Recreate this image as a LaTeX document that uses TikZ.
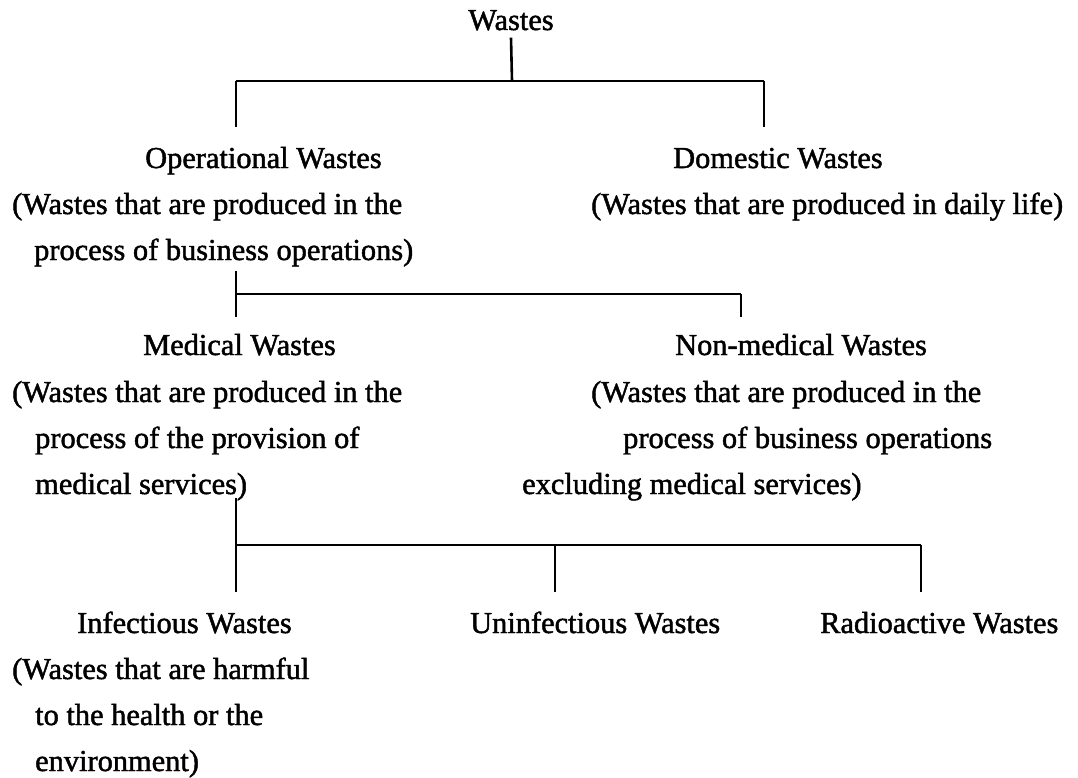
\documentclass[tikz,border=0pt]{standalone}
\usepackage{fontspec}
\setmainfont{Liberation Serif}[FakeBold=1.5]
\usepackage{tikz}

\tikzset{
  txt/.style={font=\fontsize{30.4}{36}\selectfont, inner sep=0pt, anchor=base west},
  stem/.style={line width=2.6pt},
  bar/.style={line width=1.5pt}
}

\begin{document}
\begin{tikzpicture}[x=1pt,y=-1pt]
% Page and white paper
\fill[white] (0,0) rectangle (1078,778);
\useasboundingbox (0,0) rectangle (1078,778);

% Top level
\node[txt,anchor=base] (wastes) at (511,30) {Wastes};

% Second level
\node[txt] (oper) at (145,168) {Operational Wastes};
\node[txt] (operA) at (12,214) {(Wastes that are produced in the};
\node[txt] (operB) at (34,260) {process of business operations)};
\node[txt] (dome) at (673,168) {Domestic Wastes};
\node[txt] (domeA) at (591,214) {(Wastes that are produced in daily life)};

% Third level
\node[txt] (med) at (143,355) {Medical Wastes};
\node[txt] (medA) at (12,402) {(Wastes that are produced in the};
\node[txt] (medB) at (35,448) {process of the provision of};
\node[txt] (medC) at (35,494) {medical services)};
\node[txt] (nonmed) at (675,355) {Non-medical Wastes};
\node[txt] (nonmedA) at (591,402) {(Wastes that are produced in the};
\node[txt] (nonmedB) at (623,448) {process of business operations};
\node[txt] (nonmedC) at (522,494) {excluding medical services)};

% Bottom level
\node[txt] (infec) at (77,633) {Infectious Wastes};
\node[txt] (infecA) at (12,679) {(Wastes that are harmful};
\node[txt] (infecB) at (35,725) {to the health or the};
\node[txt] (infecC) at (35,771) {environment)};
\node[txt] (uninf) at (470,633) {Uninfectious Wastes};
\node[txt] (radio) at (820,633) {Radioactive Wastes};

% Bracket under Wastes
\coordinate (j1) at (512,81);
\coordinate (j1l) at (236,81);
\coordinate (j1r) at (764,81);
\coordinate (e1l) at (236,127);
\coordinate (e1r) at (764,127);
\draw[stem] ([yshift=-7pt]wastes.south) -- (j1);
\draw[bar] (j1l) -- (j1r);
\draw[stem] (j1l) -- (e1l);
\draw[stem] (j1r) -- (e1r);

% Bracket under Operational Wastes
\coordinate (s2) at (236,271);
\coordinate (e2l) at (236,317);
\coordinate (j2l) at (236,294);
\coordinate (j2r) at (741,294);
\coordinate (e2r) at (741,317);
\draw[stem] (s2) -- (e2l);
\draw[bar] (j2l) -- (j2r);
\draw[stem] (j2r) -- (e2r);

% Bracket under Medical Wastes
\coordinate (s3) at (236,498);
\coordinate (e3l) at (236,592);
\coordinate (j3l) at (236,545);
\coordinate (j3m) at (555,545);
\coordinate (j3r) at (921,545);
\coordinate (e3m) at (555,592);
\coordinate (e3r) at (921,592);
\draw[stem] (s3) -- (e3l);
\draw[bar] (j3l) -- (j3r);
\draw[stem] (j3m) -- (e3m);
\draw[stem] (j3r) -- (e3r);
\end{tikzpicture}
\end{document}
